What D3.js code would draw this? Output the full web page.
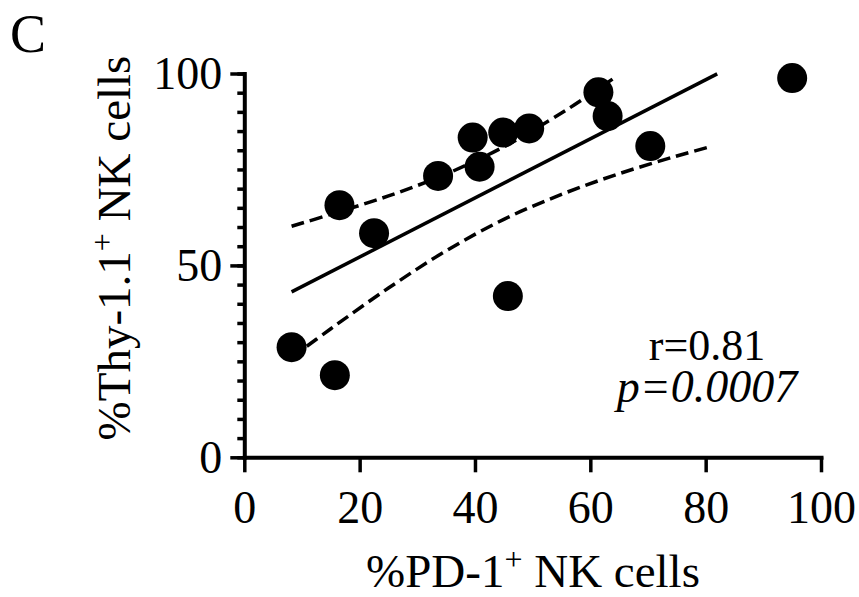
<!DOCTYPE html>
<html>
<head>
<meta charset="utf-8">
<script src="https://cdn.jsdelivr.net/npm/d3@7"></script>
<style>
	body { margin: 0; background: #fff; }
	svg { font-family: "Liberation Serif", "Times New Roman", serif; }
</style>
</head>
<body>
<svg id="chart" width="859" height="597"></svg>
<script>
// values
var pd1 = [8.2, 15.7, 16.5, 22.5, 33.6, 39.6, 40.8, 44.9, 49.4, 45.7, 61.4, 63.0, 70.4, 95.0];
var thy11 = [28.7, 21.4, 65.7, 58.4, 73.3, 83.3, 75.7, 84.6, 85.7, 42.0, 95.1, 88.9, 81.1, 98.8];

// regression line and its 95% band, as drawn
var fitX = [8.2, 82.0];
var fitY = [43.1, 99.9];
var upperX = [8.2, 15, 25, 35, 45, 55, 60, 64.5];
var upperY = [60.2, 63.3, 68.1, 73.8, 80.9, 89.7, 94.6, 99.2];
var lowerX = [8.2, 15, 25, 35, 45, 55, 65, 75, 81];
var lowerY = [26.0, 33.5, 44.1, 53.8, 62.0, 68.5, 73.9, 78.5, 81.0];

var xTicks = [0, 20, 40, 60, 80, 100];
var yTicks = [0, 50, 100];
var yMinorTicks = [0, 5, 10, 15, 20, 25, 30, 35, 40, 45, 50, 55, 60, 65, 70, 75, 80, 85, 90, 95, 100];

var svg = d3.select('#chart');

// Scales
var x = d3.scaleLinear().domain([0, 100]).range([244.3, 821]);
var y = d3.scaleLinear().domain([0, 100]).range([457.3, 73.5]);

// Panel letter
svg.append('text')
	.attr('x', 10)
	.attr('y', 52)
	.attr('font-size', 54)
	.text('C');

// Y axis: minor ticks, then major ticks with labels
var yMinor = svg.append('g')
	.attr('transform', 'translate(' + x(0) + ',0)')
	.call(d3.axisLeft(y).tickValues(yMinorTicks).tickSize(7).tickFormat(''));
yMinor.select('.domain').remove();
yMinor.selectAll('line').attr('stroke-width', 3.5);

var yAxis = svg.append('g')
	.attr('transform', 'translate(' + x(0) + ',0)')
	.call(d3.axisLeft(y).tickValues(yTicks).tickSize(14).tickSizeOuter(0).tickPadding(8));
yAxis.attr('font-family', null).attr('font-size', null);
yAxis.select('.domain').attr('stroke-width', 4).attr('stroke-linecap', 'square');
yAxis.selectAll('line').attr('stroke-width', 3.5);
yAxis.selectAll('text').attr('font-size', 46).attr('dy', '0.33em');

// X axis
var xAxis = svg.append('g')
	.attr('transform', 'translate(0,' + y(0) + ')')
	.call(d3.axisBottom(x).tickValues(xTicks).tickSize(15).tickSizeOuter(0));
xAxis.attr('font-family', null).attr('font-size', null);
xAxis.select('.domain').attr('stroke-width', 4).attr('stroke-linecap', 'square');
xAxis.selectAll('line').attr('stroke-width', 3.5);
xAxis.selectAll('text').attr('font-size', 46).attr('y', 66).attr('dy', 0);

// Axis titles
var yLab = svg.append('text')
	.attr('transform', 'translate(130,248) rotate(-90)')
	.attr('text-anchor', 'middle')
	.attr('font-size', 47);
yLab.append('tspan').text('%Thy-1.1');
yLab.append('tspan').attr('font-size', 32).attr('dy', -17).text('+');
yLab.append('tspan').attr('dy', 17).text(' NK cells');

var xLab = svg.append('text')
	.attr('x', 533)
	.attr('y', 587)
	.attr('text-anchor', 'middle')
	.attr('font-size', 47);
xLab.append('tspan').text('%PD-1');
xLab.append('tspan').attr('font-size', 32).attr('dy', -17).text('+');
xLab.append('tspan').attr('dy', 17).text(' NK cells');

// Fit line and confidence band
var line = d3.line()
	.x(function(d) { return x(d[0]); })
	.y(function(d) { return y(d[1]); });
var curve = d3.line()
	.curve(d3.curveCatmullRom)
	.x(function(d) { return x(d[0]); })
	.y(function(d) { return y(d[1]); });

svg.append('path')
	.attr('d', line(d3.zip(fitX, fitY)))
	.attr('fill', 'none')
	.attr('stroke', '#000')
	.attr('stroke-width', 3.5);

[d3.zip(upperX, upperY), d3.zip(lowerX, lowerY)].forEach(function(band) {
	svg.append('path')
		.attr('d', curve(band))
		.attr('fill', 'none')
		.attr('stroke', '#000')
		.attr('stroke-width', 3.5)
		.attr('stroke-dasharray', '13,6');
});

// Points
svg.selectAll('.dot')
	.data(d3.zip(pd1, thy11))
	.enter()
	.append('circle')
	.attr('class', 'dot')
	.attr('cx', function(d) { return x(d[0]); })
	.attr('cy', function(d) { return y(d[1]); })
	.attr('r', 15)
	.attr('fill', '#000');

// Stats
svg.append('text')
	.attr('x', 707)
	.attr('y', 360)
	.attr('text-anchor', 'middle')
	.attr('font-size', 44)
	.text('r=0.81');
svg.append('text')
	.attr('x', 707)
	.attr('y', 402)
	.attr('text-anchor', 'middle')
	.attr('font-size', 46)
	.attr('font-style', 'italic')
	.text('p=0.0007');
</script>
</body>
</html>
